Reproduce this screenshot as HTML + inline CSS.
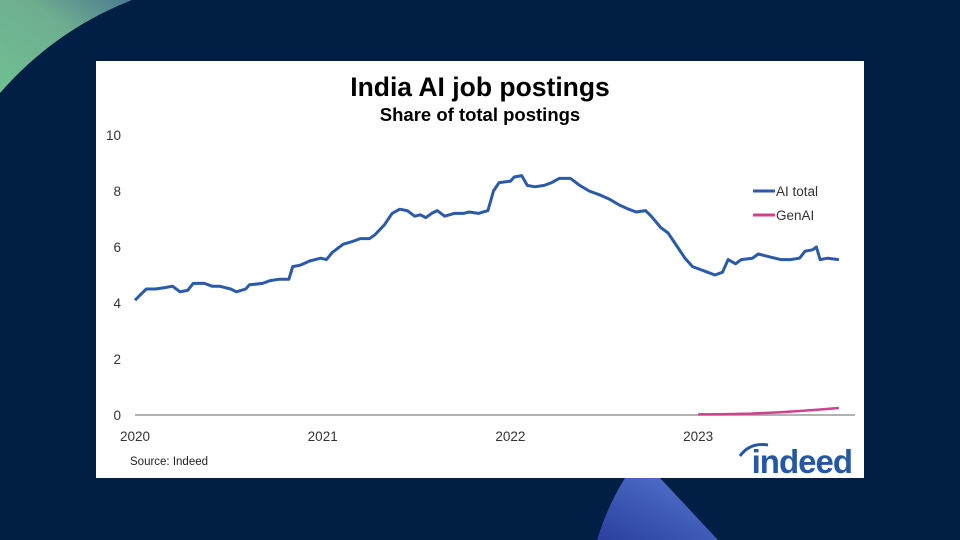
<!DOCTYPE html>
<html><head><meta charset="utf-8"><style>
body{margin:0;width:960px;height:540px;overflow:hidden;background:#011e44;font-family:"Liberation Sans",sans-serif;position:relative}
.card{position:absolute;left:96px;top:61px;width:768px;height:417px;background:#fff}
svg text{font-family:"Liberation Sans",sans-serif}
</style></head><body>
<svg width="960" height="540" style="position:absolute;left:0;top:0">
<defs><linearGradient id="g1" x1="0" y1="1" x2="1" y2="0"><stop offset="0" stop-color="#6fbf92"/><stop offset="0.6" stop-color="#6fae8f"/><stop offset="1" stop-color="#4a7a90"/></linearGradient>
<linearGradient id="g2" x1="0" y1="1" x2="1" y2="0"><stop offset="0" stop-color="#2a3f9e"/><stop offset="1" stop-color="#5578d2"/></linearGradient></defs>
<path d="M0,0 L132,0 Q55,30 0,93 Z" fill="url(#g1)"/>
<path d="M625,478 L660,478 L718,540 L597,540 Q608,505 625,478 Z" fill="url(#g2)"/>
</svg>
<div class="card"></div>
<svg id="chart" width="960" height="540" style="position:absolute;left:0;top:0">
<text x="480" y="96" text-anchor="middle" font-size="26.5" font-weight="bold" fill="#000">India AI job postings</text>
<text x="480" y="121" text-anchor="middle" font-size="18.5" font-weight="bold" fill="#000">Share of total postings</text>
<text x="130" y="465" font-size="11.5" fill="#222">Source: Indeed</text>
<text x="852" y="473" text-anchor="end" font-size="33" font-weight="bold" fill="#2557a7" letter-spacing="-1">indeed</text>
<path d="M740,456 Q750,442 768,445" stroke="#2557a7" stroke-width="3" fill="none"/>
</svg>
<script>
const yTicks=[0,2,4,6,8,10];
const xTicks=[2020,2021,2022,2023];
const aiDates=[2020,2020.03,2020.06,2020.11,2020.16,2020.20,2020.24,2020.28,2020.31,2020.37,2020.41,2020.45,2020.51,2020.54,2020.59,2020.61,2020.68,2020.72,2020.77,2020.82,2020.84,2020.88,2020.93,2020.99,2021.02,2021.05,2021.11,2021.16,2021.20,2021.25,2021.28,2021.33,2021.37,2021.41,2021.45,2021.49,2021.52,2021.55,2021.58,2021.61,2021.65,2021.70,2021.75,2021.78,2021.83,2021.88,2021.91,2021.94,2022.00,2022.02,2022.06,2022.09,2022.13,2022.18,2022.22,2022.26,2022.32,2022.37,2022.42,2022.48,2022.53,2022.58,2022.63,2022.67,2022.72,2022.75,2022.80,2022.84,2022.89,2022.93,2022.97,2023.01,2023.05,2023.09,2023.13,2023.16,2023.20,2023.23,2023.29,2023.32,2023.38,2023.44,2023.49,2023.54,2023.57,2023.61,2023.63,2023.65,2023.69,2023.75];
const aiValues=[4.1,4.3,4.5,4.5,4.55,4.6,4.4,4.45,4.7,4.7,4.6,4.6,4.5,4.4,4.5,4.65,4.7,4.8,4.85,4.85,5.3,5.35,5.5,5.6,5.55,5.8,6.1,6.2,6.3,6.3,6.45,6.8,7.2,7.35,7.3,7.1,7.15,7.05,7.2,7.3,7.1,7.2,7.2,7.25,7.2,7.3,8.0,8.3,8.35,8.5,8.55,8.2,8.15,8.2,8.3,8.45,8.45,8.2,8.0,7.85,7.7,7.5,7.35,7.25,7.3,7.1,6.7,6.5,6.0,5.6,5.3,5.2,5.1,5.0,5.1,5.55,5.4,5.55,5.6,5.75,5.65,5.55,5.55,5.6,5.85,5.9,6.0,5.55,5.6,5.55];
const genDates=[2023.00,2023.12,2023.28,2023.44,2023.60,2023.70,2023.75];
const genValues=[0.02,0.03,0.05,0.1,0.17,0.22,0.25];
const NS="http://www.w3.org/2000/svg";
const svg=document.getElementById('chart');
function xS(d){return 135+(d-2020)*187.7;}
function yS(v){return 415-v*28;}
function mk(tag,attrs,txt){const e=document.createElementNS(NS,tag);for(const k in attrs)e.setAttribute(k,attrs[k]);if(txt!==undefined)e.textContent=txt;svg.appendChild(e);return e;}
yTicks.forEach(t=>{const e=mk('text',{x:121,y:yS(t)+5,'text-anchor':'end','font-size':13.5,fill:'#333'},String(t));

});
xTicks.forEach(t=>{const e=mk('text',{x:xS(t),y:441,'text-anchor':'middle','font-size':13.5,fill:'#333'},String(t));

});
const ax=mk('line',{x1:135,x2:855,y1:415,y2:415,stroke:'#999','stroke-width':1.5});


function path(ds,vs){return ds.map((d,i)=>(i?'L':'M')+xS(d).toFixed(1)+','+yS(vs[i]).toFixed(1)).join(' ');}
const l1=mk('path',{d:path(aiDates,aiValues),fill:'none',stroke:'#2a5aa8','stroke-width':3,'stroke-linejoin':'round'});


const l2=mk('path',{d:path(genDates,genValues),fill:'none',stroke:'#d0428e','stroke-width':2.5});


[['AI total','#2a5aa8',191],['GenAI','#d0428e',215]].forEach(([n,c,y])=>{
const g=mk('g',{});


const ln=document.createElementNS(NS,'line');ln.setAttribute('x1',753);ln.setAttribute('x2',775);ln.setAttribute('y1',y);ln.setAttribute('y2',y);ln.setAttribute('stroke',c);ln.setAttribute('stroke-width',3);g.appendChild(ln);
const tx=document.createElementNS(NS,'text');tx.setAttribute('x',776);tx.setAttribute('y',y+5);tx.setAttribute('font-size',13.5);tx.setAttribute('fill','#333');tx.textContent=n;g.appendChild(tx);
});
</script>
</body></html>
